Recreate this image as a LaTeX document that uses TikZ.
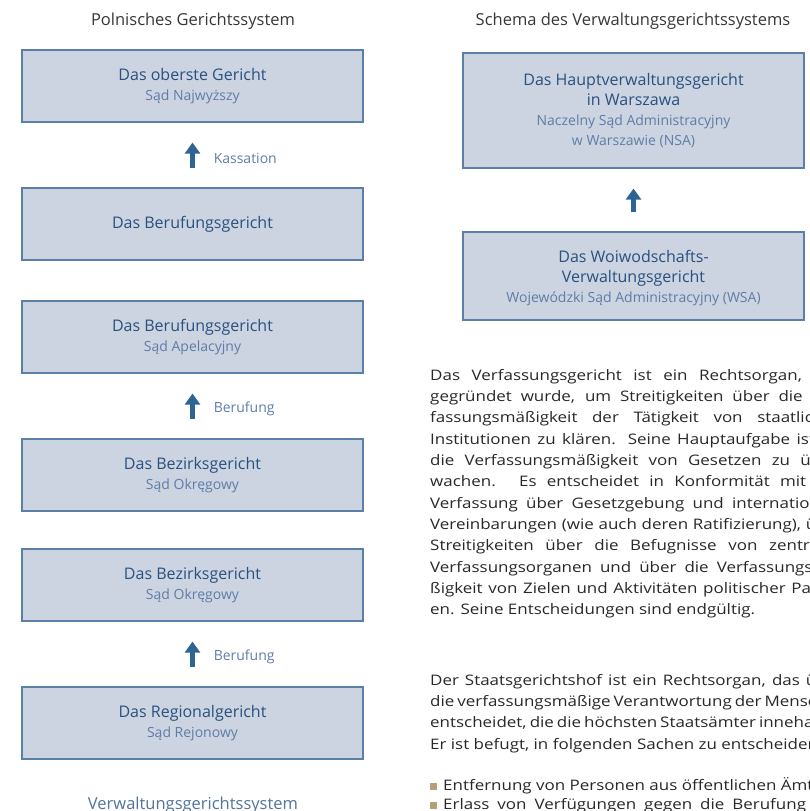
\documentclass[tikz,border=0pt]{standalone}
\usepackage{fontspec}
\setmainfont{Open Sans}
\newfontfamily\widefont[FakeStretch=1.17]{Open Sans}
\usetikzlibrary{arrows.meta}
\definecolor{courtfill}{RGB}{204,212,225}
\definecolor{courtline}{RGB}{90,128,170}
\definecolor{courtdark}{RGB}{42,80,126}
\definecolor{courtlight}{RGB}{96,124,166}
\definecolor{courtarrow}{RGB}{45,100,148}
\definecolor{titlegray}{RGB}{55,55,55}
\definecolor{bodygray}{RGB}{40,40,40}
\definecolor{bullettan}{RGB}{182,160,118}

\newcommand{\courtsub}[1]{{\fontsize{14}{19}\selectfont\color{courtlight}#1}}
\newcommand{\jline}[1]{\makebox[413pt][s]{#1}}

\begin{document}
\begin{tikzpicture}[x=1pt,y=-1pt]
    % Style definitions
    \tikzset{
      court/.style={draw=courtline, fill=courtfill, line width=1.2pt,
        minimum width=341pt, inner sep=0pt, align=center, text=courtdark,
        font=\fontsize{16}{20}\selectfont},
      hdr/.style={font=\fontsize{16.5}{20}\selectfont, text=titlegray, anchor=base},
      uparrow/.style={draw=courtarrow, line width=4.5pt,
        -{Triangle[width=15pt,length=11pt]}, shorten <=19pt, shorten >=20pt},
      remedy/.style={font=\fontsize{14}{17}\selectfont, text=courtlight,
        anchor=west, inner sep=0pt, xshift=19pt, yshift=-3pt},
      bodytext/.style={font=\widefont\fontsize{14.5}{21.3}\selectfont, text=bodygray,
        anchor=north west, inner sep=0pt, align=left},
    }
    \useasboundingbox (0,0) rectangle (809,811);
    \clip (0,0) rectangle (809,811);

    % ------------------------------------------------------------------
    % Left column: ordinary courts
    % ------------------------------------------------------------------
    \node[hdr] (polhead) at (193,25) {Polnisches Gerichtssystem};

    \node[court, minimum height=72pt] (supreme) at (192.5,86)
      {Das oberste Gericht\\\courtsub{Sąd Najwyższy}};
    \node[court, minimum height=72pt] (appealA) at (192.5,224)
      {Das Berufungsgericht};
    \node[court, minimum height=72pt] (appealB) at (192.5,337)
      {Das Berufungsgericht\\\courtsub{Sąd Apelacyjny}};
    \node[court, minimum height=72pt] (districtA) at (192.5,475)
      {Das Bezirksgericht\\\courtsub{Sąd Okręgowy}};
    \node[court, minimum height=72pt] (districtB) at (192.5,585)
      {Das Bezirksgericht\\\courtsub{Sąd Okręgowy}};
    \node[court, minimum height=72pt] (regional) at (192.5,723)
      {Das Regionalgericht\\\courtsub{Sąd Rejonowy}};

    \draw[uparrow] (appealA.north) -- (supreme.south)
      node[midway, remedy] (kass) {Kassation};
    \draw[uparrow] (districtA.north) -- (appealB.south)
      node[midway, remedy] (beruf1) {Berufung};
    \draw[uparrow] (regional.north) -- (districtB.south)
      node[midway, remedy] (beruf2) {Berufung};

    \node[hdr, text=courtline!90!black] (admhead) at (193,809)
      {Verwaltungsgerichtssystem};

    % ------------------------------------------------------------------
    % Right column: administrative courts
    % ------------------------------------------------------------------
    \node[hdr] (schemahead) at (633,25)
      {Schema des Verwaltungsgerichtssystems};

    \node[court, minimum height=115pt] (nsa) at (633.5,110.5)
      {Das Hauptverwaltungsgericht\\in Warszawa\\
       \courtsub{Naczelny Sąd Administracyjny}\\
       \courtsub{w Warszawie (NSA)}};
    \node[court, minimum height=88pt] (wsa) at (633.5,276)
      {\rule{0pt}{8pt}\\[-12pt]Das Woiwodschafts-\\Verwaltungsgericht\\
       \courtsub{Wojewódzki Sąd Administracyjny (WSA)}};

    \draw[uparrow] (wsa.north) -- (nsa.south);

    % body text, cut by the right edge
    \node[bodytext] (tribunal) at (430,369) {%
      \jline{Das Verfassungsgericht ist ein Rechtsorgan, das}\\
      \jline{gegründet wurde, um Streitigkeiten über die Ver-}\\
      \jline{fassungsmäßigkeit der Tätigkeit von staatlichen}\\
      \jline{Institutionen zu klären. Seine Hauptaufgabe ist es,}\\
      \jline{die Verfassungsmäßigkeit von Gesetzen zu über-}\\
      \jline{wachen. Es entscheidet in Konformität mit der}\\
      \jline{Verfassung über Gesetzgebung und internationale}\\
      \jline{Vereinbarungen (wie auch deren Ratifizierung), über}\\
      \jline{Streitigkeiten über die Befugnisse von zentralen}\\
      \jline{Verfassungsorganen und über die Verfassungsmä-}\\
      \jline{ßigkeit von Zielen und Aktivitäten politischer Partei-}\\
      en. Seine Entscheidungen sind endgültig.};

    \node[bodytext] (statetribunal) at (430,674) {%
      \jline{Der Staatsgerichtshof ist ein Rechtsorgan, das über}\\
      \jline{die verfassungsmäßige Verantwortung der Menschen}\\
      \jline{entscheidet, die die höchsten Staatsämter innehaben.}\\
      Er ist befugt, in folgenden Sachen zu entscheiden:};

    \node[bodytext] (powers) at (430,777) {%
      {\color{bullettan}\rule{7pt}{7pt}}\hspace{6pt}Entfernung von Personen aus öffentlichen Ämtern\\[-2pt]
      {\color{bullettan}\rule{7pt}{7pt}}\hspace{6pt}\makebox[400pt][s]{Erlass von Verfügungen gegen die Berufung von}};
\end{tikzpicture}
\end{document}
